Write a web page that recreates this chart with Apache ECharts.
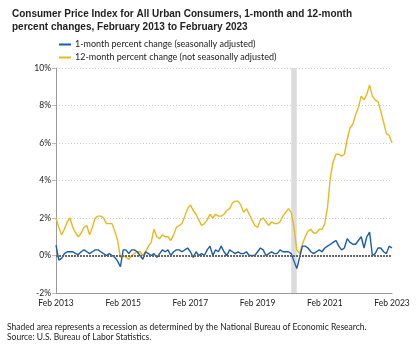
<!DOCTYPE html>
<html>
<head>
<meta charset="utf-8">
<script src="https://cdn.jsdelivr.net/npm/echarts@6/dist/echarts.min.js"></script>
<style>
    html, body { margin: 0; padding: 0; background: #fff; }
    #chart { width: 418px; height: 352px; }
</style>
</head>
<body>
<div id="chart"></div>
<script>
// month labels, Feb 2013 .. Feb 2023
const monthNames = ['Jan', 'Feb', 'Mar', 'Apr', 'May', 'Jun', 'Jul', 'Aug', 'Sep', 'Oct', 'Nov', 'Dec'];
const months = [];
for (let y = 2013; y <= 2023; y++) {
    for (let m = 0; m < 12; m++) {
        if (y === 2013 && m < 1) continue;
        if (y === 2023 && m > 1) continue;
        months.push(monthNames[m] + ' ' + y);
    }
}

// 1-month percent change (seasonally adjusted)
const oneMonth = [
    0.55, -0.25, -0.15, 0.1, 0.2, 0.2, 0.2, 0.1, 0.05, 0.2, 0.3,
    0.2, 0.1, 0.2, 0.3, 0.3, 0.2, 0.1, 0.0, 0.1, 0.0, -0.1, -0.3,
    -0.6, 0.3, 0.3, 0.1, 0.3, 0.3, 0.2, 0.0, -0.2, 0.2, 0.1, 0.0,
    0.1, -0.1, 0.1, 0.3, 0.2, 0.3, 0.0, 0.2, 0.3, 0.3, 0.2, 0.3,
    0.4, 0.2, -0.1, 0.2, 0.0, 0.1, 0.0, 0.3, 0.5, 0.0, 0.3, 0.2,
    0.5, 0.2, 0.0, 0.3, 0.2, 0.1, 0.2, 0.1, 0.1, 0.2, 0.0, 0.0,
    0.0, 0.2, 0.4, 0.3, 0.0, 0.1, 0.2, 0.1, 0.1, 0.3, 0.2, 0.2,
    0.2, 0.1, -0.3, -0.7, -0.1, 0.5, 0.5, 0.4, 0.2, 0.1, 0.2, 0.3,
    0.2, 0.4, 0.5, 0.6, 0.7, 0.8, 0.5, 0.3, 0.4, 0.9, 0.7, 0.6,
    0.6, 0.8, 1.0, 0.4, 1.0, 1.25, 0.0, 0.1, 0.4, 0.4, 0.2, 0.1,
    0.5, 0.4
];

// 12-month percent change (not seasonally adjusted)
const twelveMonth = [
    2.0, 1.5, 1.1, 1.4, 1.8, 2.0, 1.5, 1.2, 1.0, 1.2, 1.5,
    1.6, 1.1, 1.5, 2.0, 2.1, 2.1, 2.0, 1.7, 1.7, 1.7, 1.3, 0.8,
    -0.1, 0.0, -0.1, -0.2, 0.0, 0.1, 0.2, 0.2, 0.0, 0.2, 0.5, 0.7,
    1.4, 1.0, 0.9, 1.1, 1.0, 1.0, 0.8, 1.1, 1.5, 1.6, 1.7, 2.1,
    2.5, 2.7, 2.4, 2.2, 1.9, 1.6, 1.7, 1.9, 2.2, 2.0, 2.2, 2.1,
    2.1, 2.2, 2.4, 2.5, 2.8, 2.9, 2.9, 2.7, 2.3, 2.5, 2.2, 1.9,
    1.6, 1.5, 1.9, 2.0, 1.8, 1.6, 1.8, 1.7, 1.7, 1.8, 2.1, 2.3,
    2.5, 2.3, 1.5, 0.3, 0.1, 0.6, 1.0, 1.3, 1.4, 1.2, 1.2, 1.4,
    1.4, 1.7, 2.6, 4.2, 5.0, 5.4, 5.4, 5.3, 5.4, 6.2, 6.8, 7.0,
    7.5, 7.9, 8.5, 8.3, 8.6, 9.1, 8.5, 8.3, 8.2, 7.7, 7.1, 6.5,
    6.4, 6.0
];

// recession (NBER)
const recession = ['Feb 2020', 'Apr 2020'];

const yTicks = [-2, 0, 2, 4, 6, 8, 10];

const smallFont = 'Lato, "Open Sans", sans-serif';

let myChart = echarts.init(document.getElementById('chart'));

const option = {
    animation: false,
    title: {
        text: 'Consumer Price Index for All Urban Consumers, 1-month and 12-month\npercent changes, February 2013 to February 2023',
        left: 7,
        top: 3,
        textStyle: {
            fontFamily: '"Liberation Sans", Arial, sans-serif',
            fontSize: 10,
            fontWeight: 'bold',
            color: '#222',
            lineHeight: 13
        }
    },
    legend: {
        orient: 'vertical',
        left: 54,
        top: 35,
        itemWidth: 12,
        itemHeight: 2,
        itemGap: 4,
        icon: 'rect',
        textStyle: { fontFamily: smallFont, fontSize: 9, color: '#222', padding: [0, 0, 0, -1] },
        data: ['1-month percent change (seasonally adjusted)', '12-month percent change (not seasonally adjusted)']
    },
    grid: {
        left: 56,
        right: 26,
        top: 68,
        bottom: 59,
        containLabel: false
    },
    xAxis: {
        type: 'category',
        boundaryGap: false,
        data: months,
        axisLine: { onZero: false, lineStyle: { color: '#999', width: 1 } },
        axisTick: { show: false },
        axisLabel: {
            interval: function (index) { return index % 24 === 0; },
            fontFamily: smallFont,
            fontSize: 8.5,
            color: '#222',
            margin: 6
        },
        splitLine: { show: false }
    },
    yAxis: {
        type: 'value',
        min: yTicks[0],
        max: yTicks[yTicks.length - 1],
        interval: 2,
        axisLine: { show: true, lineStyle: { color: '#999', width: 1 } },
        axisTick: { show: true, length: 4, lineStyle: { color: '#bbb' } },
        axisLabel: {
            formatter: '{value}%',
            fontFamily: smallFont,
            fontSize: 8.5,
            color: '#222',
            margin: 5
        },
        splitLine: { show: true, lineStyle: { color: '#ccc', type: [1, 2], width: 1 } }
    },
    graphic: [
        {
            type: 'text',
            left: 7,
            top: 322,
            style: {
                text: 'Shaded area represents a recession as determined by the National Bureau of Economic Research.\nSource: U.S. Bureau of Labor Statistics.',
                font: '8.5px ' + smallFont,
                fill: '#222',
                lineHeight: 10
            }
        }
    ],
    series: [
        {
            name: '12-month percent change (not seasonally adjusted)',
            type: 'line',
            data: twelveMonth,
            showSymbol: false,
            symbol: 'none',
            color: '#e6b91e',
            lineStyle: { width: 1.4, color: '#e6b91e' },
            markArea: {
                silent: true,
                itemStyle: { color: '#dcdcdc' },
                data: [[{ xAxis: recession[0] }, { xAxis: recession[1] }]]
            },
            markLine: {
                silent: true,
                symbol: ['none', 'none'],
                label: { show: false },
                lineStyle: { color: '#666', type: [2, 1], width: 2 },
                data: [{ yAxis: 0 }]
            }
        },
        {
            name: '1-month percent change (seasonally adjusted)',
            type: 'line',
            data: oneMonth,
            showSymbol: false,
            symbol: 'none',
            color: '#1a5ca8',
            lineStyle: { width: 1.4, color: '#1a5ca8' }
        }
    ]
};

myChart.setOption(option);
</script>
</body>
</html>
